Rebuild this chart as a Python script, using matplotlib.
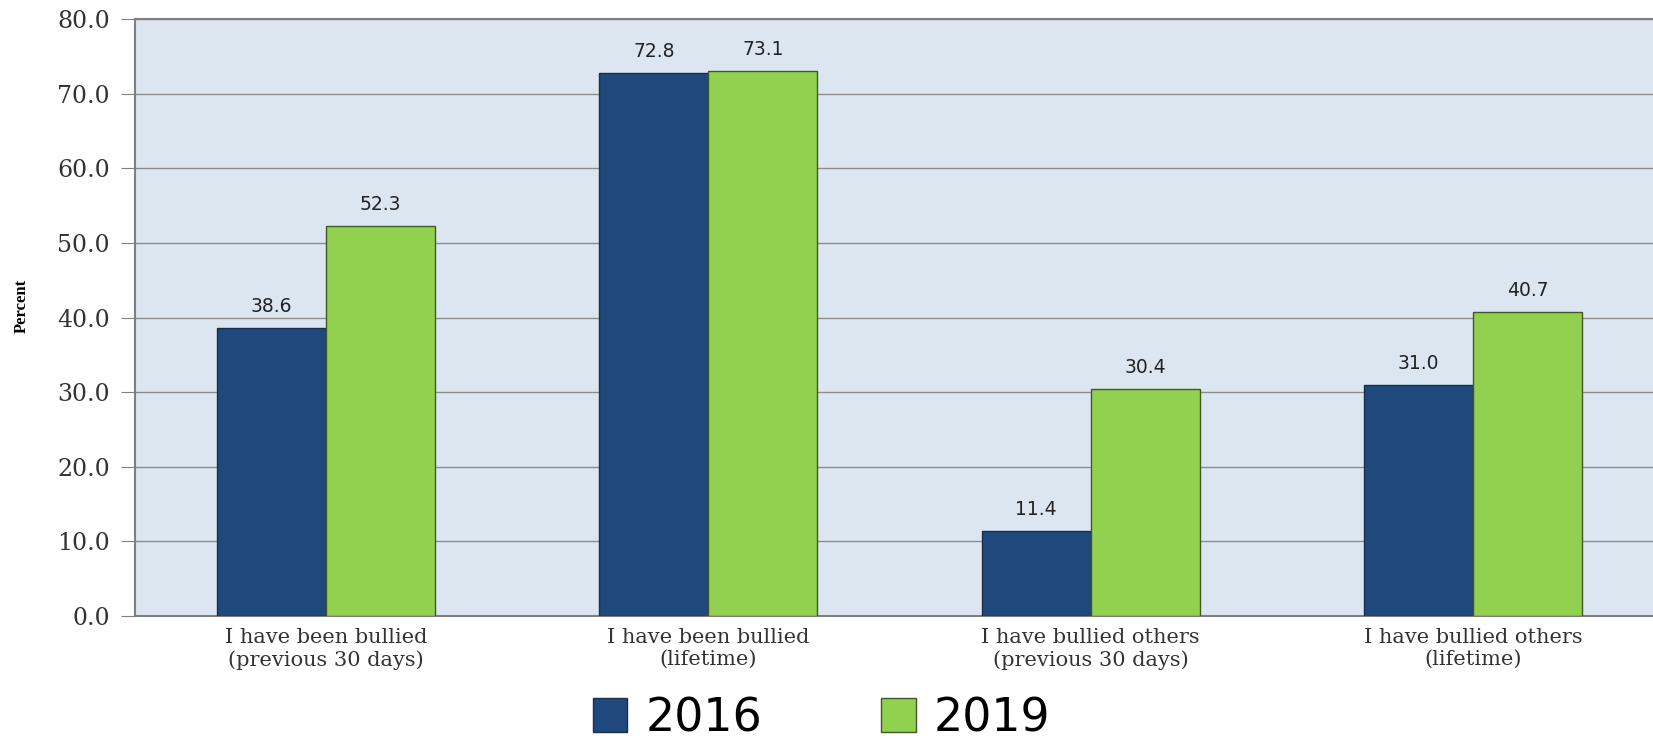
import matplotlib.pyplot as plt
import numpy as np

categories = ["I have been bullied\n(previous 30 days)",
              "I have been bullied\n(lifetime)",
              "I have bullied others\n(previous 30 days)",
              "I have bullied others\n(lifetime)"]
vals_2016 = [38.6, 72.8, 11.4, 31.0]
vals_2019 = [52.3, 73.1, 30.4, 40.7]
years = ["2016", "2019"]

fig = plt.figure(figsize=(16.53, 7.41), dpi=100)
ax = fig.add_axes([0.0817, 0.169, 0.925, 0.805])
ax.set_facecolor("#dce6f1")

x = np.arange(len(categories))
w = 0.285
b1 = ax.bar(x - w / 2, vals_2016, w, color="#1f497d", edgecolor="#1a2f4a", linewidth=1, label=years[0], zorder=3)
b2 = ax.bar(x + w / 2, vals_2019, w, color="#92d050", edgecolor="#3f5a25", linewidth=1, label=years[1], zorder=3)

for bars in (b1, b2):
    for r in bars:
        h = r.get_height()
        ax.text(r.get_x() + r.get_width() / 2, h + 1.6, f"{h:.1f}", ha="center", va="bottom",
                fontsize=13.5, family="DejaVu Sans", color="#222222")

ax.set_xlim(-0.5, 3.5)
ax.set_ylim(0, 80)
ax.set_yticks(np.arange(0, 81, 10))
ax.set_yticklabels([f"{v:.1f}" for v in np.arange(0, 81, 10)], family="DejaVu Serif", fontsize=17, color="#333333")
ax.set_xticks(x)
ax.set_xticklabels(categories, family="DejaVu Serif", fontsize=15, color="#333333")
ax.tick_params(axis="x", length=0, pad=9)
ax.tick_params(axis="y", length=10, color="#808080", pad=8)
ax.yaxis.grid(True, color="#8c8c8c", linewidth=1, zorder=0)
ax.set_axisbelow(True)
for s in ("left", "top", "bottom"):
    ax.spines[s].set_color("#7f7f7f")
    ax.spines[s].set_linewidth(1.5)
ax.spines["right"].set_visible(False)

fig.text(0.013, 0.587, "Percent", rotation=90, ha="center", va="center",
         family="Liberation Serif", fontsize=12, fontweight="bold", stretch="condensed")

fig.legend(loc="center", bbox_to_anchor=(0.497, 0.03), ncol=2, frameon=False,
           prop={"family": "DejaVu Sans", "size": 33}, handlelength=0.75, handleheight=0.75,
           columnspacing=2.6, handletextpad=0.4)

fig.savefig("out.png", dpi=100)
